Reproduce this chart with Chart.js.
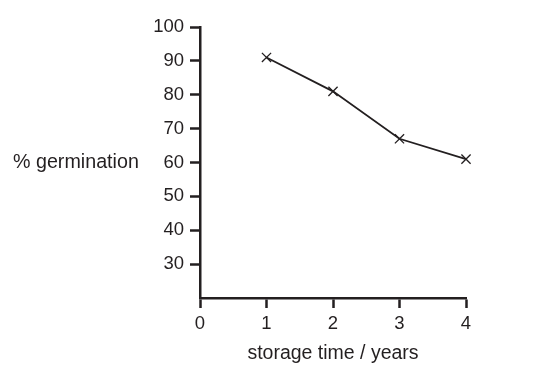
<!DOCTYPE html>
<html>
<head>
<meta charset="utf-8">
<script src="https://cdn.jsdelivr.net/npm/chart.js@4"></script>
<style>
html,body{margin:0;padding:0;background:#fff;}
#wrap{width:539px;height:372px;position:relative;}
</style>
</head>
<body>
<div id="wrap"><canvas id="c" width="539" height="372"></canvas></div>
<script>
const years = [1, 2, 3, 4];
const germination = [91, 81, 67, 61];
const yTickValues = [30, 40, 50, 60, 70, 80, 90, 100];
const xTitle = 'storage time / years';
const yTitle = '% germination';

const ink = '#231f20';
const fontFamily = '"Liberation Sans", Arial, sans-serif';

const yTitlePlugin = {
  id: 'yTitle',
  afterDraw(chart) {
    const ctx = chart.ctx;
    const y = chart.scales.y;
    ctx.save();
    ctx.font = '19.7px ' + fontFamily;
    ctx.fillStyle = ink;
    ctx.textAlign = 'left';
    ctx.textBaseline = 'middle';
    ctx.fillText(yTitle, 13, y.getPixelForValue(60));
    ctx.restore();
  }
};

new Chart(document.getElementById('c'), {
  type: 'line',
  data: {
    datasets: [{
      data: years.map((x, i) => ({x: x, y: germination[i]})),
      borderColor: ink,
      borderWidth: 1.8,
      pointStyle: 'crossRot',
      pointRadius: 6.5,
      pointBorderWidth: 1.3,
      pointBorderColor: ink,
      pointHoverRadius: 6.5,
      fill: false,
      tension: 0,
      clip: false
    }]
  },
  options: {
    responsive: false,
    animation: false,
    events: [],
    layout: {padding: {left: 0, right: 73, top: 27, bottom: 0}},
    plugins: {legend: {display: false}, tooltip: {enabled: false}},
    scales: {
      x: {
        type: 'linear',
        min: 0, max: 4,
        afterFit(s) { s.height = 74; },
        ticks: {stepSize: 1, color: ink, padding: 5, font: {family: fontFamily, size: 18.5}},
        grid: {drawOnChartArea: false, drawTicks: true, tickLength: 10, tickWidth: 2.5, tickColor: ink},
        border: {display: true, color: ink, width: 2.5},
        title: {display: true, text: xTitle, color: ink, padding: {top: 0, bottom: 7}, font: {family: fontFamily, size: 19.5}}
      },
      y: {
        min: 20, max: 100,
        afterFit(s) { s.width = 200; },
        afterBuildTicks(s) { s.ticks = [{value: 20}].concat(yTickValues.map(v => ({value: v}))); },
        ticks: {
          color: ink, padding: 6, font: {family: fontFamily, size: 18.5},
          callback: v => (yTickValues.includes(v) ? String(v) : '')
        },
        grid: {
          drawOnChartArea: false, drawTicks: true, tickLength: 10, tickWidth: 2.5,
          tickColor: c => (c.tick && yTickValues.includes(c.tick.value) ? ink : 'rgba(0,0,0,0)')
        },
        border: {display: true, color: ink, width: 2.5}
      }
    }
  },
  plugins: [yTitlePlugin]
});
</script>
</body>
</html>
